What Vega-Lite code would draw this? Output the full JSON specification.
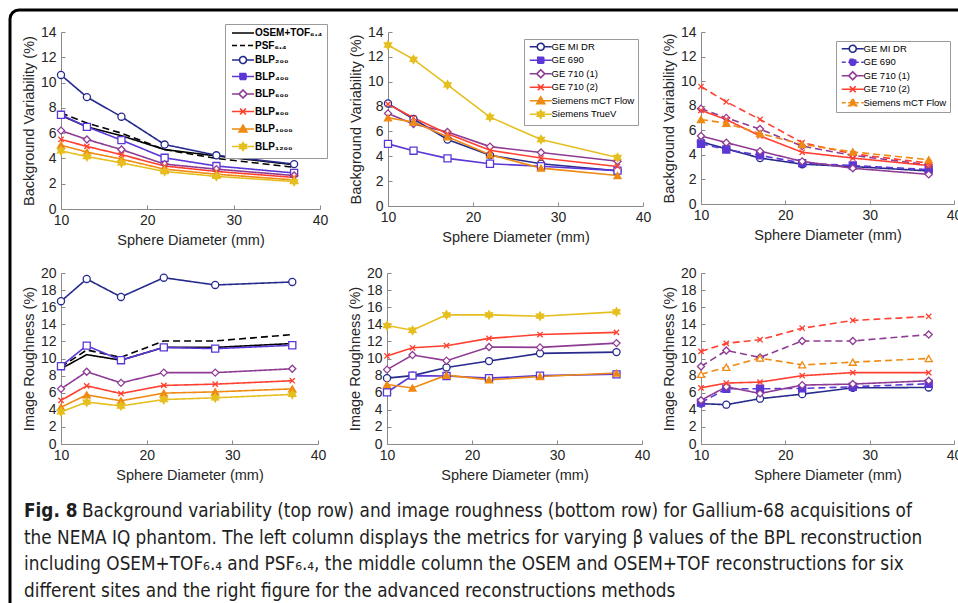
{
"$schema": "https://vega.github.io/schema/vega-lite/v6.json",
"background": "white",
"padding": {"left": 8, "top": 8, "right": 0, "bottom": 0},
"config": {
  "view": {"stroke": null},
  "font": "Liberation Sans",
  "axis": {"labelFont": "Liberation Sans", "labelFontSize": 14, "labelColor": "#262626", "titleFont": "Liberation Sans", "titleFontSize": 14.5, "titleFontWeight": "normal", "titleColor": "#262626", "domainColor": "#8a8a8a", "tickColor": "#8a8a8a", "tickSize": -4, "grid": false, "labelOverlap": false},
  "axisX": {"labelPadding": 8, "titlePadding": 6, "labelFlush": false},
  "axisY": {"labelPadding": 9, "titlePadding": 4},
  "legend": {"labelFont": "Liberation Sans", "labelColor": "#000000"}
},
"datasets": {
  "bvBPL": [
    {"series":"OSEM+TOF₆.₄","recon":"OSEM+TOF","diam":10,"val":7.4},{"series":"OSEM+TOF₆.₄","recon":"OSEM+TOF","diam":13,"val":6.5},{"series":"OSEM+TOF₆.₄","recon":"OSEM+TOF","diam":17,"val":5.8},{"series":"OSEM+TOF₆.₄","recon":"OSEM+TOF","diam":22,"val":4.7},{"series":"OSEM+TOF₆.₄","recon":"OSEM+TOF","diam":28,"val":4.2},{"series":"OSEM+TOF₆.₄","recon":"OSEM+TOF","diam":37,"val":3.5},
    {"series":"PSF₆.₄","recon":"PSF","diam":10,"val":7.6},{"series":"PSF₆.₄","recon":"PSF","diam":13,"val":6.8},{"series":"PSF₆.₄","recon":"PSF","diam":17,"val":6.0},{"series":"PSF₆.₄","recon":"PSF","diam":22,"val":4.7},{"series":"PSF₆.₄","recon":"PSF","diam":28,"val":4.0},{"series":"PSF₆.₄","recon":"PSF","diam":37,"val":3.3},
    {"series":"BLP₂₀₀","recon":"BPL","diam":10,"val":10.6},{"series":"BLP₂₀₀","recon":"BPL","diam":13,"val":8.85},{"series":"BLP₂₀₀","recon":"BPL","diam":17,"val":7.3},{"series":"BLP₂₀₀","recon":"BPL","diam":22,"val":5.1},{"series":"BLP₂₀₀","recon":"BPL","diam":28,"val":4.25},{"series":"BLP₂₀₀","recon":"BPL","diam":37,"val":3.55},
    {"series":"BLP₄₀₀","recon":"BPL","diam":10,"val":7.45},{"series":"BLP₄₀₀","recon":"BPL","diam":13,"val":6.5},{"series":"BLP₄₀₀","recon":"BPL","diam":17,"val":5.45},{"series":"BLP₄₀₀","recon":"BPL","diam":22,"val":4.05},{"series":"BLP₄₀₀","recon":"BPL","diam":28,"val":3.4},{"series":"BLP₄₀₀","recon":"BPL","diam":37,"val":2.85},
    {"series":"BLP₆₀₀","recon":"BPL","diam":10,"val":6.2},{"series":"BLP₆₀₀","recon":"BPL","diam":13,"val":5.5},{"series":"BLP₆₀₀","recon":"BPL","diam":17,"val":4.7},{"series":"BLP₆₀₀","recon":"BPL","diam":22,"val":3.55},{"series":"BLP₆₀₀","recon":"BPL","diam":28,"val":3.15},{"series":"BLP₆₀₀","recon":"BPL","diam":37,"val":2.65},
    {"series":"BLP₈₀₀","recon":"BPL","diam":10,"val":5.5},{"series":"BLP₈₀₀","recon":"BPL","diam":13,"val":4.95},{"series":"BLP₈₀₀","recon":"BPL","diam":17,"val":4.3},{"series":"BLP₈₀₀","recon":"BPL","diam":22,"val":3.4},{"series":"BLP₈₀₀","recon":"BPL","diam":28,"val":2.97},{"series":"BLP₈₀₀","recon":"BPL","diam":37,"val":2.5},
    {"series":"BLP₁₀₀₀","recon":"BPL","diam":10,"val":5.05},{"series":"BLP₁₀₀₀","recon":"BPL","diam":13,"val":4.5},{"series":"BLP₁₀₀₀","recon":"BPL","diam":17,"val":3.95},{"series":"BLP₁₀₀₀","recon":"BPL","diam":22,"val":3.15},{"series":"BLP₁₀₀₀","recon":"BPL","diam":28,"val":2.75},{"series":"BLP₁₀₀₀","recon":"BPL","diam":37,"val":2.3},
    {"series":"BLP₁₂₀₀","recon":"BPL","diam":10,"val":4.6},{"series":"BLP₁₂₀₀","recon":"BPL","diam":13,"val":4.15},{"series":"BLP₁₂₀₀","recon":"BPL","diam":17,"val":3.65},{"series":"BLP₁₂₀₀","recon":"BPL","diam":22,"val":2.97},{"series":"BLP₁₂₀₀","recon":"BPL","diam":28,"val":2.58},{"series":"BLP₁₂₀₀","recon":"BPL","diam":37,"val":2.17}
  ],
  "irBPL": [
    {"series":"OSEM+TOF₆.₄","recon":"OSEM+TOF","diam":10,"val":8.8},{"series":"OSEM+TOF₆.₄","recon":"OSEM+TOF","diam":13,"val":10.45},{"series":"OSEM+TOF₆.₄","recon":"OSEM+TOF","diam":17,"val":9.8},{"series":"OSEM+TOF₆.₄","recon":"OSEM+TOF","diam":22,"val":11.3},{"series":"OSEM+TOF₆.₄","recon":"OSEM+TOF","diam":28,"val":11.3},{"series":"OSEM+TOF₆.₄","recon":"OSEM+TOF","diam":37,"val":11.75},
    {"series":"PSF₆.₄","recon":"PSF","diam":10,"val":9.0},{"series":"PSF₆.₄","recon":"PSF","diam":13,"val":11.0},{"series":"PSF₆.₄","recon":"PSF","diam":17,"val":10.15},{"series":"PSF₆.₄","recon":"PSF","diam":22,"val":12.05},{"series":"PSF₆.₄","recon":"PSF","diam":28,"val":12.05},{"series":"PSF₆.₄","recon":"PSF","diam":37,"val":12.8},
    {"series":"BLP₂₀₀","recon":"BPL","diam":10,"val":16.7},{"series":"BLP₂₀₀","recon":"BPL","diam":13,"val":19.3},{"series":"BLP₂₀₀","recon":"BPL","diam":17,"val":17.2},{"series":"BLP₂₀₀","recon":"BPL","diam":22,"val":19.45},{"series":"BLP₂₀₀","recon":"BPL","diam":28,"val":18.6},{"series":"BLP₂₀₀","recon":"BPL","diam":37,"val":18.95},
    {"series":"BLP₄₀₀","recon":"BPL","diam":10,"val":9.1},{"series":"BLP₄₀₀","recon":"BPL","diam":13,"val":11.5},{"series":"BLP₄₀₀","recon":"BPL","diam":17,"val":9.8},{"series":"BLP₄₀₀","recon":"BPL","diam":22,"val":11.3},{"series":"BLP₄₀₀","recon":"BPL","diam":28,"val":11.15},{"series":"BLP₄₀₀","recon":"BPL","diam":37,"val":11.55},
    {"series":"BLP₆₀₀","recon":"BPL","diam":10,"val":6.45},{"series":"BLP₆₀₀","recon":"BPL","diam":13,"val":8.45},{"series":"BLP₆₀₀","recon":"BPL","diam":17,"val":7.15},{"series":"BLP₆₀₀","recon":"BPL","diam":22,"val":8.35},{"series":"BLP₆₀₀","recon":"BPL","diam":28,"val":8.35},{"series":"BLP₆₀₀","recon":"BPL","diam":37,"val":8.8},
    {"series":"BLP₈₀₀","recon":"BPL","diam":10,"val":5.1},{"series":"BLP₈₀₀","recon":"BPL","diam":13,"val":6.8},{"series":"BLP₈₀₀","recon":"BPL","diam":17,"val":5.9},{"series":"BLP₈₀₀","recon":"BPL","diam":22,"val":6.85},{"series":"BLP₈₀₀","recon":"BPL","diam":28,"val":7.0},{"series":"BLP₈₀₀","recon":"BPL","diam":37,"val":7.4},
    {"series":"BLP₁₀₀₀","recon":"BPL","diam":10,"val":4.3},{"series":"BLP₁₀₀₀","recon":"BPL","diam":13,"val":5.75},{"series":"BLP₁₀₀₀","recon":"BPL","diam":17,"val":5.05},{"series":"BLP₁₀₀₀","recon":"BPL","diam":22,"val":5.95},{"series":"BLP₁₀₀₀","recon":"BPL","diam":28,"val":6.1},{"series":"BLP₁₀₀₀","recon":"BPL","diam":37,"val":6.45},
    {"series":"BLP₁₂₀₀","recon":"BPL","diam":10,"val":3.75},{"series":"BLP₁₂₀₀","recon":"BPL","diam":13,"val":4.9},{"series":"BLP₁₂₀₀","recon":"BPL","diam":17,"val":4.45},{"series":"BLP₁₂₀₀","recon":"BPL","diam":22,"val":5.2},{"series":"BLP₁₂₀₀","recon":"BPL","diam":28,"val":5.4},{"series":"BLP₁₂₀₀","recon":"BPL","diam":37,"val":5.8}
  ],
  "bvSite": [
    {"series":"GE MI DR","diam":10,"val":8.25},{"series":"GE MI DR","diam":13,"val":7.0},{"series":"GE MI DR","diam":17,"val":5.35},{"series":"GE MI DR","diam":22,"val":4.08},{"series":"GE MI DR","diam":28,"val":3.4},{"series":"GE MI DR","diam":37,"val":2.83},
    {"series":"GE 690","diam":10,"val":5.0},{"series":"GE 690","diam":13,"val":4.45},{"series":"GE 690","diam":17,"val":3.83},{"series":"GE 690","diam":22,"val":3.4},{"series":"GE 690","diam":28,"val":3.2},{"series":"GE 690","diam":37,"val":2.85},
    {"series":"GE 710 (1)","diam":10,"val":7.45},{"series":"GE 710 (1)","diam":13,"val":6.6},{"series":"GE 710 (1)","diam":17,"val":5.95},{"series":"GE 710 (1)","diam":22,"val":4.78},{"series":"GE 710 (1)","diam":28,"val":4.3},{"series":"GE 710 (1)","diam":37,"val":3.6},
    {"series":"GE 710 (2)","diam":10,"val":8.2},{"series":"GE 710 (2)","diam":13,"val":7.1},{"series":"GE 710 (2)","diam":17,"val":5.82},{"series":"GE 710 (2)","diam":22,"val":4.48},{"series":"GE 710 (2)","diam":28,"val":3.86},{"series":"GE 710 (2)","diam":37,"val":3.18},
    {"series":"Siemens mCT Flow","diam":10,"val":7.1},{"series":"Siemens mCT Flow","diam":13,"val":6.75},{"series":"Siemens mCT Flow","diam":17,"val":5.57},{"series":"Siemens mCT Flow","diam":22,"val":4.13},{"series":"Siemens mCT Flow","diam":28,"val":3.05},{"series":"Siemens mCT Flow","diam":37,"val":2.45},
    {"series":"Siemens TrueV","diam":10,"val":12.95},{"series":"Siemens TrueV","diam":13,"val":11.8},{"series":"Siemens TrueV","diam":17,"val":9.75},{"series":"Siemens TrueV","diam":22,"val":7.15},{"series":"Siemens TrueV","diam":28,"val":5.35},{"series":"Siemens TrueV","diam":37,"val":3.9}
  ],
  "irSite": [
    {"series":"GE MI DR","diam":10,"val":7.7},{"series":"GE MI DR","diam":13,"val":8.0},{"series":"GE MI DR","diam":17,"val":8.95},{"series":"GE MI DR","diam":22,"val":9.7},{"series":"GE MI DR","diam":28,"val":10.6},{"series":"GE MI DR","diam":37,"val":10.75},
    {"series":"GE 690","diam":10,"val":6.05},{"series":"GE 690","diam":13,"val":8.0},{"series":"GE 690","diam":17,"val":7.95},{"series":"GE 690","diam":22,"val":7.7},{"series":"GE 690","diam":28,"val":8.0},{"series":"GE 690","diam":37,"val":8.15},
    {"series":"GE 710 (1)","diam":10,"val":8.7},{"series":"GE 710 (1)","diam":13,"val":10.4},{"series":"GE 710 (1)","diam":17,"val":9.75},{"series":"GE 710 (1)","diam":22,"val":11.35},{"series":"GE 710 (1)","diam":28,"val":11.3},{"series":"GE 710 (1)","diam":37,"val":11.8},
    {"series":"GE 710 (2)","diam":10,"val":10.3},{"series":"GE 710 (2)","diam":13,"val":11.25},{"series":"GE 710 (2)","diam":17,"val":11.5},{"series":"GE 710 (2)","diam":22,"val":12.35},{"series":"GE 710 (2)","diam":28,"val":12.8},{"series":"GE 710 (2)","diam":37,"val":13.05},
    {"series":"Siemens mCT Flow","diam":10,"val":6.95},{"series":"Siemens mCT Flow","diam":13,"val":6.55},{"series":"Siemens mCT Flow","diam":17,"val":8.05},{"series":"Siemens mCT Flow","diam":22,"val":7.5},{"series":"Siemens mCT Flow","diam":28,"val":7.9},{"series":"Siemens mCT Flow","diam":37,"val":8.3},
    {"series":"Siemens TrueV","diam":10,"val":13.85},{"series":"Siemens TrueV","diam":13,"val":13.3},{"series":"Siemens TrueV","diam":17,"val":15.1},{"series":"Siemens TrueV","diam":22,"val":15.1},{"series":"Siemens TrueV","diam":28,"val":14.95},{"series":"Siemens TrueV","diam":37,"val":15.45}
  ],
  "bvAdv": [
    {"series":"GE MI DR","recon":"std","diam":10,"val":5.07},{"series":"GE MI DR","recon":"std","diam":13,"val":4.49},{"series":"GE MI DR","recon":"std","diam":17,"val":3.74},{"series":"GE MI DR","recon":"std","diam":22,"val":3.24},{"series":"GE MI DR","recon":"std","diam":28,"val":3.05},{"series":"GE MI DR","recon":"std","diam":37,"val":2.69},
    {"series":"GE 690","recon":"adv","diam":10,"val":4.9},{"series":"GE 690","recon":"adv","diam":13,"val":4.44},{"series":"GE 690","recon":"adv","diam":17,"val":3.96},{"series":"GE 690","recon":"adv","diam":22,"val":3.33},{"series":"GE 690","recon":"adv","diam":28,"val":3.13},{"series":"GE 690","recon":"adv","diam":37,"val":2.8},
    {"series":"GE 710 (1)","recon":"std","diam":10,"val":5.54},{"series":"GE 710 (1)","recon":"std","diam":13,"val":4.99},{"series":"GE 710 (1)","recon":"std","diam":17,"val":4.3},{"series":"GE 710 (1)","recon":"std","diam":22,"val":3.47},{"series":"GE 710 (1)","recon":"std","diam":28,"val":2.91},{"series":"GE 710 (1)","recon":"std","diam":37,"val":2.41},
    {"series":"GE 710 (1)","recon":"adv","diam":10,"val":7.76},{"series":"GE 710 (1)","recon":"adv","diam":13,"val":7.01},{"series":"GE 710 (1)","recon":"adv","diam":17,"val":6.1},{"series":"GE 710 (1)","recon":"adv","diam":22,"val":4.71},{"series":"GE 710 (1)","recon":"adv","diam":28,"val":3.96},{"series":"GE 710 (1)","recon":"adv","diam":37,"val":3.19},
    {"series":"GE 710 (2)","recon":"std","diam":10,"val":7.62},{"series":"GE 710 (2)","recon":"std","diam":13,"val":6.88},{"series":"GE 710 (2)","recon":"std","diam":17,"val":5.54},{"series":"GE 710 (2)","recon":"std","diam":22,"val":4.21},{"series":"GE 710 (2)","recon":"std","diam":28,"val":3.74},{"series":"GE 710 (2)","recon":"std","diam":37,"val":3.13},
    {"series":"GE 710 (2)","recon":"adv","diam":10,"val":9.56},{"series":"GE 710 (2)","recon":"adv","diam":13,"val":8.32},{"series":"GE 710 (2)","recon":"adv","diam":17,"val":6.88},{"series":"GE 710 (2)","recon":"adv","diam":22,"val":4.99},{"series":"GE 710 (2)","recon":"adv","diam":28,"val":4.08},{"series":"GE 710 (2)","recon":"adv","diam":37,"val":3.33},
    {"series":"Siemens mCT Flow","recon":"adv","diam":10,"val":6.88},{"series":"Siemens mCT Flow","recon":"adv","diam":13,"val":6.57},{"series":"Siemens mCT Flow","recon":"adv","diam":17,"val":5.74},{"series":"Siemens mCT Flow","recon":"adv","diam":22,"val":4.85},{"series":"Siemens mCT Flow","recon":"adv","diam":28,"val":4.24},{"series":"Siemens mCT Flow","recon":"adv","diam":37,"val":3.6}
  ],
  "irAdv": [
    {"series":"GE MI DR","recon":"std","diam":10,"val":4.72},{"series":"GE MI DR","recon":"std","diam":13,"val":4.6},{"series":"GE MI DR","recon":"std","diam":17,"val":5.3},{"series":"GE MI DR","recon":"std","diam":22,"val":5.83},{"series":"GE MI DR","recon":"std","diam":28,"val":6.57},{"series":"GE MI DR","recon":"std","diam":37,"val":6.61},
    {"series":"GE 690","recon":"adv","diam":10,"val":4.84},{"series":"GE 690","recon":"adv","diam":13,"val":6.46},{"series":"GE 690","recon":"adv","diam":17,"val":6.46},{"series":"GE 690","recon":"adv","diam":22,"val":6.5},{"series":"GE 690","recon":"adv","diam":28,"val":6.69},{"series":"GE 690","recon":"adv","diam":37,"val":7.05},
    {"series":"GE 710 (1)","recon":"std","diam":10,"val":5.12},{"series":"GE 710 (1)","recon":"std","diam":13,"val":6.69},{"series":"GE 710 (1)","recon":"std","diam":17,"val":5.91},{"series":"GE 710 (1)","recon":"std","diam":22,"val":6.89},{"series":"GE 710 (1)","recon":"std","diam":28,"val":7.01},{"series":"GE 710 (1)","recon":"std","diam":37,"val":7.4},
    {"series":"GE 710 (1)","recon":"adv","diam":10,"val":9.06},{"series":"GE 710 (1)","recon":"adv","diam":13,"val":10.94},{"series":"GE 710 (1)","recon":"adv","diam":17,"val":10.12},{"series":"GE 710 (1)","recon":"adv","diam":22,"val":12.05},{"series":"GE 710 (1)","recon":"adv","diam":28,"val":12.05},{"series":"GE 710 (1)","recon":"adv","diam":37,"val":12.8},
    {"series":"GE 710 (2)","recon":"std","diam":10,"val":6.57},{"series":"GE 710 (2)","recon":"std","diam":13,"val":7.13},{"series":"GE 710 (2)","recon":"std","diam":17,"val":7.24},{"series":"GE 710 (2)","recon":"std","diam":22,"val":7.99},{"series":"GE 710 (2)","recon":"std","diam":28,"val":8.35},{"series":"GE 710 (2)","recon":"std","diam":37,"val":8.35},
    {"series":"GE 710 (2)","recon":"adv","diam":10,"val":10.83},{"series":"GE 710 (2)","recon":"adv","diam":13,"val":11.77},{"series":"GE 710 (2)","recon":"adv","diam":17,"val":12.2},{"series":"GE 710 (2)","recon":"adv","diam":22,"val":13.54},{"series":"GE 710 (2)","recon":"adv","diam":28,"val":14.45},{"series":"GE 710 (2)","recon":"adv","diam":37,"val":14.92},
    {"series":"Siemens mCT Flow","recon":"adv","diam":10,"val":8.15},{"series":"Siemens mCT Flow","recon":"adv","diam":13,"val":8.98},{"series":"Siemens mCT Flow","recon":"adv","diam":17,"val":10.04},{"series":"Siemens mCT Flow","recon":"adv","diam":22,"val":9.25},{"series":"Siemens mCT Flow","recon":"adv","diam":28,"val":9.57},{"series":"Siemens mCT Flow","recon":"adv","diam":37,"val":10.0}
  ]
},
"bounds": "flush",
"spacing": 51,
"resolve": {"scale": {"stroke": "independent", "fill": "independent", "shape": "independent", "strokeDash": "independent"}, "legend": {"stroke": "independent", "fill": "independent", "shape": "independent", "strokeDash": "independent"}},
"hconcat": [
  {"bounds": "flush", "vconcat": [
    {"width": 1000, "height": 620, "data": {"values": []}, "mark": "point", "encoding": {}, "view": {"stroke": "#000000", "strokeWidth": 3, "cornerRadius": 9}}
  ]},
  {
    "bounds": "flush", "spacing": 21,
    "resolve": {"scale": {"stroke": "independent", "fill": "independent", "shape": "independent", "strokeDash": "independent"}, "legend": {"stroke": "independent", "fill": "independent", "shape": "independent", "strokeDash": "independent"}},
    "vconcat": [
      {"width": 1, "height": 1, "data": {"values": []}, "mark": "point", "encoding": {}},
      {
        "bounds": "flush", "spacing": 241,
        "resolve": {"scale": {"stroke": "independent", "fill": "independent", "shape": "independent", "strokeDash": "independent"}, "legend": {"stroke": "independent", "fill": "independent", "shape": "independent", "strokeDash": "independent"}},
        "vconcat": [
              {
                "bounds": "flush", "spacing": 68,
                "resolve": {"scale": {"stroke": "independent", "fill": "independent", "shape": "independent", "strokeDash": "independent"}, "legend": {"stroke": "independent", "fill": "independent", "shape": "independent", "strokeDash": "independent"}},
                "hconcat": [
                  {
                    "width": 259, "height": 177,
                    "data": {"name": "bvBPL"},
                    "encoding": {
                      "x": {"field": "diam", "type": "quantitative", "scale": {"domain": [10, 40], "nice": false}, "axis": {"title": "Sphere Diameter (mm)", "values": [10, 20, 30, 40]}},
                      "y": {"field": "val", "type": "quantitative", "scale": {"domain": [0, 14], "nice": false}, "axis": {"title": "Background Variability (%)", "values": [0, 2, 4, 6, 8, 10, 12, 14]}},
                      "stroke": {"field": "series", "type": "nominal",
                        "scale": {"domain": ["OSEM+TOF₆.₄", "PSF₆.₄", "BLP₂₀₀", "BLP₄₀₀", "BLP₆₀₀", "BLP₈₀₀", "BLP₁₀₀₀", "BLP₁₂₀₀"], "range": ["#000000", "#000000", "#262a8c", "#5b37d6", "#8e3b94", "#ff4030", "#ef8a12", "#e5bf1f"]},
                        "legend": {"orient": "none", "legendX": 164, "legendY": -8, "title": null, "padding": 4, "rowPadding": 2.5, "symbolSize": 4, "symbolStrokeWidth": 1.6, "labelOffset": 16, "labelFontSize": 10, "labelFontWeight": "bold", "fillColor": "white", "strokeColor": "#9a9a9a",
                          "encode": {"symbols": {"update": {
                            "shape": {"signal": "['M-2,0H20','M-2,0H20','M-2,0H5.5M12.5,0H20M12.5,0A3.5,3.5 0 1,1 5.5,0A3.5,3.5 0 1,1 12.5,0Z','M-2,0H20M6,-3H12V3H6Z','M-2,0H5M13,0H20M9,-4L13,0L9,4L5,0Z','M-2,0H20M6,-3L12,3M6,3L12,-3','M-2,0H20M9,-4L13,3H5Z','M-2,0H20M9,-4L10.155,-2L12.46,-2L11.31,0L12.46,2L10.155,2L9,4L7.845,2L5.54,2L6.69,0L5.54,-2L7.845,-2Z'][datum.index]"},
                            "fill": {"signal": "['transparent','transparent','white','#5b37d6','white','transparent','#ef8a12','#e5bf1f'][datum.index]"},
                            "strokeDash": {"signal": "[[1,0],[5,3],[1,0],[1,0],[1,0],[1,0],[1,0],[1,0]][datum.index]"}
                          }}}
                        }
                      }
                    },
                    "layer": [
                      {"mark": {"type": "line", "strokeWidth": 1.6}, "encoding": {"strokeDash": {"field": "recon", "type": "nominal", "scale": {"domain": ["OSEM+TOF", "PSF", "BPL"], "range": [[1, 0], [7, 4], [1, 0]]}, "legend": null}}},
                      {"transform": [{"filter": "datum.recon == 'BPL'"}], "mark": {"type": "point", "filled": true, "size": 50, "strokeWidth": 1.3, "opacity": 1},
                       "encoding": {
                         "shape": {"field": "series", "type": "nominal", "scale": {"domain": ["BLP₂₀₀", "BLP₄₀₀", "BLP₆₀₀", "BLP₈₀₀", "BLP₁₀₀₀", "BLP₁₂₀₀"], "range": ["circle", "square", "diamond", "M-0.75,-0.75L0.75,0.75M-0.75,0.75L0.75,-0.75", "triangle-up", "M0,-1.15L0.33,-0.575L1,-0.575L0.66,0L1,0.575L0.33,0.575L0,1.15L-0.33,0.575L-1,0.575L-0.66,0L-1,-0.575L-0.33,-0.575Z"]}, "legend": null},
                         "fill": {"field": "series", "type": "nominal", "scale": {"domain": ["BLP₂₀₀", "BLP₄₀₀", "BLP₆₀₀", "BLP₈₀₀", "BLP₁₀₀₀", "BLP₁₂₀₀"], "range": ["white", "white", "white", "#ff4030", "#ef8a12", "#e5bf1f"]}, "legend": null}
                       }}
                    ]
                  },
                  {
                    "bounds": "flush", "spacing": 58,
                    "resolve": {"scale": {"stroke": "independent", "fill": "independent", "shape": "independent", "strokeDash": "independent"}, "legend": {"stroke": "independent", "fill": "independent", "shape": "independent", "strokeDash": "independent"}},
                    "hconcat": [
                      {
                        "width": 255, "height": 174,
                        "data": {"name": "bvSite"},
                        "encoding": {
                          "x": {"field": "diam", "type": "quantitative", "scale": {"domain": [10, 40], "nice": false}, "axis": {"title": "Sphere Diameter (mm)", "values": [10, 20, 30, 40]}},
                          "y": {"field": "val", "type": "quantitative", "scale": {"domain": [0, 14], "nice": false}, "axis": {"title": "Background Variability (%)", "values": [0, 2, 4, 6, 8, 10, 12, 14]}},
                          "stroke": {"field": "series", "type": "nominal",
                            "scale": {"domain": ["GE MI DR", "GE 690", "GE 710 (1)", "GE 710 (2)", "Siemens mCT Flow", "Siemens TrueV"], "range": ["#262a8c", "#5b37d6", "#8e3b94", "#ff4030", "#ef8a12", "#e5bf1f"]},
                            "legend": {"orient": "none", "legendX": 136, "legendY": 7, "title": null, "padding": 3, "rowPadding": -0.5, "symbolSize": 4, "symbolStrokeWidth": 1.6, "labelOffset": 15, "labelFontSize": 9.5, "fillColor": "white", "strokeColor": "#9a9a9a",
                              "encode": {"symbols": {"update": {
                                "shape": {"signal": "['M-2,0H5.5M12.5,0H20M12.5,0A3.5,3.5 0 1,1 5.5,0A3.5,3.5 0 1,1 12.5,0Z','M-2,0H20M6,-3H12V3H6Z','M-2,0H5M13,0H20M9,-4L13,0L9,4L5,0Z','M-2,0H20M6,-3L12,3M6,3L12,-3','M-2,0H20M9,-4L13,3H5Z','M-2,0H20M9,-4L10.155,-2L12.46,-2L11.31,0L12.46,2L10.155,2L9,4L7.845,2L5.54,2L6.69,0L5.54,-2L7.845,-2Z'][datum.index]"},
                                "fill": {"signal": "['white','#5b37d6','white','transparent','#ef8a12','#e5bf1f'][datum.index]"},
                                "strokeDash": {"signal": "[1,0]"}
                              }}}
                            }
                          }
                        },
                        "layer": [
                          {"mark": {"type": "line", "strokeWidth": 1.6}},
                          {"mark": {"type": "point", "filled": true, "size": 50, "strokeWidth": 1.3, "opacity": 1},
                           "encoding": {
                             "shape": {"field": "series", "type": "nominal", "scale": {"domain": ["Siemens TrueV", "Siemens mCT Flow", "GE 710 (2)", "GE 710 (1)", "GE 690", "GE MI DR"], "range": ["M0,-1.15L0.33,-0.575L1,-0.575L0.66,0L1,0.575L0.33,0.575L0,1.15L-0.33,0.575L-1,0.575L-0.66,0L-1,-0.575L-0.33,-0.575Z", "triangle-up", "M-0.75,-0.75L0.75,0.75M-0.75,0.75L0.75,-0.75", "diamond", "square", "circle"]}, "legend": null},
                             "fill": {"field": "series", "type": "nominal", "scale": {"domain": ["Siemens TrueV", "Siemens mCT Flow", "GE 710 (2)", "GE 710 (1)", "GE 690", "GE MI DR"], "range": ["#e5bf1f", "#ef8a12", "#ff4030", "white", "white", "white"]}, "legend": null}
                           }}
                        ]
                      },
                      {
                        "width": 253, "height": 172,
                        "data": {"name": "bvAdv"},
                        "encoding": {
                          "x": {"field": "diam", "type": "quantitative", "scale": {"domain": [10, 40], "nice": false}, "axis": {"title": "Sphere Diameter (mm)", "values": [10, 20, 30, 40]}},
                          "y": {"field": "val", "type": "quantitative", "scale": {"domain": [0, 14], "nice": false}, "axis": {"title": "Background Variability (%)", "values": [0, 2, 4, 6, 8, 10, 12, 14]}},
                          "stroke": {"field": "series", "type": "nominal",
                            "scale": {"domain": ["GE MI DR", "GE 690", "GE 710 (1)", "GE 710 (2)", "Siemens mCT Flow"], "range": ["#262a8c", "#5b37d6", "#8e3b94", "#ff4030", "#ef8a12"]},
                            "legend": {"orient": "none", "legendX": 135, "legendY": 9, "title": null, "padding": 3, "rowPadding": -0.5, "symbolSize": 4, "symbolStrokeWidth": 1.6, "labelOffset": 15, "labelFontSize": 9.5, "fillColor": "white", "strokeColor": "#9a9a9a",
                              "encode": {"symbols": {"update": {
                                "shape": {"signal": "['M-2,0H5.5M12.5,0H20M12.5,0A3.5,3.5 0 1,1 5.5,0A3.5,3.5 0 1,1 12.5,0Z','M-2,0H20M6,-3H12V3H6Z','M-2,0H5M13,0H20M9,-4L13,0L9,4L5,0Z','M-2,0H20M6,-3L12,3M6,3L12,-3','M-2,0H20M9,-4L13,3H5Z'][datum.index]"},
                                "fill": {"signal": "['white','#5b37d6','white','transparent','#ef8a12'][datum.index]"},
                                "strokeDash": {"signal": "[[1,0],[4,2.5],[1,0],[1,0],[4,2.5]][datum.index]"}
                              }}}
                            }
                          }
                        },
                        "layer": [
                          {"mark": {"type": "line", "strokeWidth": 1.6}, "encoding": {"strokeDash": {"field": "recon", "type": "nominal", "scale": {"domain": ["std", "adv"], "range": [[1, 0], [7, 4]]}, "legend": null}}},
                          {"mark": {"type": "point", "filled": true, "size": 50, "strokeWidth": 1.3, "opacity": 1},
                           "encoding": {
                             "shape": {"field": "series", "type": "nominal", "scale": {"domain": ["Siemens mCT Flow", "GE 710 (2)", "GE 710 (1)", "GE 690", "GE MI DR"], "range": ["triangle-up", "M-0.75,-0.75L0.75,0.75M-0.75,0.75L0.75,-0.75", "diamond", "square", "circle"]}, "legend": null},
                             "fill": {"field": "series", "type": "nominal", "scale": {"domain": ["Siemens mCT Flow", "GE 710 (2)", "GE 710 (1)", "GE 690", "GE MI DR"], "range": ["#ef8a12", "#ff4030", "white", "#5b37d6", "white"]}, "legend": null}
                           }}
                        ]
                      }
                    ]
                  }
                ]
              },
              {
                "bounds": "flush", "spacing": 238,
                "resolve": {"scale": {"stroke": "independent", "fill": "independent", "shape": "independent", "strokeDash": "independent"}, "legend": {"stroke": "independent", "fill": "independent", "shape": "independent", "strokeDash": "independent"}},
                "vconcat": [
              {
                "bounds": "flush", "spacing": 69,
                "resolve": {"scale": {"stroke": "independent", "fill": "independent", "shape": "independent", "strokeDash": "independent"}, "legend": {"stroke": "independent", "fill": "independent", "shape": "independent", "strokeDash": "independent"}},
                "hconcat": [
                  {
                    "width": 257, "height": 171,
                    "data": {"name": "irBPL"},
                    "encoding": {
                      "x": {"field": "diam", "type": "quantitative", "scale": {"domain": [10, 40], "nice": false}, "axis": {"title": "Sphere Diameter (mm)", "values": [10, 20, 30, 40]}},
                      "y": {"field": "val", "type": "quantitative", "scale": {"domain": [0, 20], "nice": false}, "axis": {"title": "Image Roughness (%)", "values": [0, 2, 4, 6, 8, 10, 12, 14, 16, 18, 20]}},
                      "stroke": {"field": "series", "type": "nominal",
                        "scale": {"domain": ["OSEM+TOF₆.₄", "PSF₆.₄", "BLP₂₀₀", "BLP₄₀₀", "BLP₆₀₀", "BLP₈₀₀", "BLP₁₀₀₀", "BLP₁₂₀₀"], "range": ["#000000", "#000000", "#262a8c", "#5b37d6", "#8e3b94", "#ff4030", "#ef8a12", "#e5bf1f"]},
                        "legend": null}
                    },
                    "layer": [
                      {"mark": {"type": "line", "strokeWidth": 1.6}, "encoding": {"strokeDash": {"field": "recon", "type": "nominal", "scale": {"domain": ["OSEM+TOF", "PSF", "BPL"], "range": [[1, 0], [7, 4], [1, 0]]}, "legend": null}}},
                      {"transform": [{"filter": "datum.recon == 'BPL'"}], "mark": {"type": "point", "filled": true, "size": 50, "strokeWidth": 1.3, "opacity": 1},
                       "encoding": {
                         "shape": {"field": "series", "type": "nominal", "scale": {"domain": ["BLP₂₀₀", "BLP₄₀₀", "BLP₆₀₀", "BLP₈₀₀", "BLP₁₀₀₀", "BLP₁₂₀₀"], "range": ["circle", "square", "diamond", "M-0.75,-0.75L0.75,0.75M-0.75,0.75L0.75,-0.75", "triangle-up", "M0,-1.15L0.33,-0.575L1,-0.575L0.66,0L1,0.575L0.33,0.575L0,1.15L-0.33,0.575L-1,0.575L-0.66,0L-1,-0.575L-0.33,-0.575Z"]}, "legend": null},
                         "fill": {"field": "series", "type": "nominal", "scale": {"domain": ["BLP₂₀₀", "BLP₄₀₀", "BLP₆₀₀", "BLP₈₀₀", "BLP₁₀₀₀", "BLP₁₂₀₀"], "range": ["white", "white", "white", "#ff4030", "#ef8a12", "#e5bf1f"]}, "legend": null}
                       }}
                    ]
                  },
                  {
                    "bounds": "flush", "spacing": 59,
                    "resolve": {"scale": {"stroke": "independent", "fill": "independent", "shape": "independent", "strokeDash": "independent"}, "legend": {"stroke": "independent", "fill": "independent", "shape": "independent", "strokeDash": "independent"}},
                    "hconcat": [
                      {
                        "width": 255, "height": 171,
                        "data": {"name": "irSite"},
                        "encoding": {
                          "x": {"field": "diam", "type": "quantitative", "scale": {"domain": [10, 40], "nice": false}, "axis": {"title": "Sphere Diameter (mm)", "values": [10, 20, 30, 40]}},
                          "y": {"field": "val", "type": "quantitative", "scale": {"domain": [0, 20], "nice": false}, "axis": {"title": "Image Roughness (%)", "values": [0, 2, 4, 6, 8, 10, 12, 14, 16, 18, 20]}},
                          "stroke": {"field": "series", "type": "nominal",
                            "scale": {"domain": ["GE MI DR", "GE 690", "GE 710 (1)", "GE 710 (2)", "Siemens mCT Flow", "Siemens TrueV"], "range": ["#262a8c", "#5b37d6", "#8e3b94", "#ff4030", "#ef8a12", "#e5bf1f"]},
                            "legend": null}
                        },
                        "layer": [
                          {"mark": {"type": "line", "strokeWidth": 1.6}},
                          {"mark": {"type": "point", "filled": true, "size": 50, "strokeWidth": 1.3, "opacity": 1},
                           "encoding": {
                             "shape": {"field": "series", "type": "nominal", "scale": {"domain": ["GE MI DR", "GE 690", "GE 710 (1)", "GE 710 (2)", "Siemens mCT Flow", "Siemens TrueV"], "range": ["circle", "square", "diamond", "M-0.75,-0.75L0.75,0.75M-0.75,0.75L0.75,-0.75", "triangle-up", "M0,-1.15L0.33,-0.575L1,-0.575L0.66,0L1,0.575L0.33,0.575L0,1.15L-0.33,0.575L-1,0.575L-0.66,0L-1,-0.575L-0.33,-0.575Z"]}, "legend": null},
                             "fill": {"field": "series", "type": "nominal", "scale": {"domain": ["GE MI DR", "GE 690", "GE 710 (1)", "GE 710 (2)", "Siemens mCT Flow", "Siemens TrueV"], "range": ["white", "white", "white", "#ff4030", "#ef8a12", "#e5bf1f"]}, "legend": null}
                           }}
                        ]
                      },
                      {
                        "width": 253, "height": 171,
                        "data": {"name": "irAdv"},
                        "encoding": {
                          "x": {"field": "diam", "type": "quantitative", "scale": {"domain": [10, 40], "nice": false}, "axis": {"title": "Sphere Diameter (mm)", "values": [10, 20, 30, 40]}},
                          "y": {"field": "val", "type": "quantitative", "scale": {"domain": [0, 20], "nice": false}, "axis": {"title": "Image Roughness (%)", "values": [0, 2, 4, 6, 8, 10, 12, 14, 16, 18, 20]}},
                          "stroke": {"field": "series", "type": "nominal",
                            "scale": {"domain": ["GE MI DR", "GE 690", "GE 710 (1)", "GE 710 (2)", "Siemens mCT Flow"], "range": ["#262a8c", "#5b37d6", "#8e3b94", "#ff4030", "#ef8a12"]},
                            "legend": null}
                        },
                        "layer": [
                          {"mark": {"type": "line", "strokeWidth": 1.6}, "encoding": {"strokeDash": {"field": "recon", "type": "nominal", "scale": {"domain": ["std", "adv"], "range": [[1, 0], [7, 4]]}, "legend": null}}},
                          {"mark": {"type": "point", "filled": true, "size": 50, "strokeWidth": 1.3, "opacity": 1},
                           "encoding": {
                             "shape": {"field": "series", "type": "nominal", "scale": {"domain": ["GE MI DR", "GE 690", "GE 710 (1)", "GE 710 (2)", "Siemens mCT Flow"], "range": ["circle", "square", "diamond", "M-0.75,-0.75L0.75,0.75M-0.75,0.75L0.75,-0.75", "triangle-up"]}, "legend": null},
                             "fill": {"field": "series", "type": "nominal", "scale": {"domain": ["GE MI DR", "GE 690", "GE 710 (1)", "GE 710 (2)", "Siemens mCT Flow"], "range": ["white", "#5b37d6", "white", "#ff4030", "white"]}, "legend": null}
                           }}
                        ]
                      }
                    ]
                  }
                ]
              },
          {
            "width": 900, "height": 80,
            "data": {"values": [
              {"line": 1, "part": "lead", "text": "Fig. 8"},
              {"line": 1, "part": "body", "text": "Background variability (top row) and image roughness (bottom row) for Gallium-68 acquisitions of"},
              {"line": 2, "part": "body", "text": "the NEMA IQ phantom. The left column displays the metrics for varying β values of the BPL reconstruction"},
              {"line": 3, "part": "body", "text": "including OSEM+TOF₆.₄ and PSF₆.₄, the middle column the OSEM and OSEM+TOF reconstructions for six"},
              {"line": 4, "part": "body", "text": "different sites and the right figure for the advanced reconstructions methods"}
            ]},
            "encoding": {
              "x": {"datum": 0, "type": "quantitative", "scale": {"domain": [0, 1]}, "axis": null},
              "y": {"field": "line", "type": "quantitative", "scale": {"domain": [1, 4], "nice": false, "zero": false, "reverse": true}, "axis": null},
              "text": {"field": "text"}
            },
            "layer": [
              {"transform": [{"filter": "datum.part == 'lead'"}], "mark": {"type": "text", "align": "left", "baseline": "middle", "font": "DejaVu Sans Condensed", "fontSize": 18.8, "fontWeight": "bold", "dx": -37, "color": "#1e1e1e"}},
              {"transform": [{"filter": "datum.part == 'body' && datum.line == 1"}], "mark": {"type": "text", "align": "left", "baseline": "middle", "font": "DejaVu Sans Condensed", "fontSize": 18.8, "dx": 21, "color": "#1e1e1e"}},
              {"transform": [{"filter": "datum.line > 1"}], "mark": {"type": "text", "align": "left", "baseline": "middle", "font": "DejaVu Sans Condensed", "fontSize": 18.8, "dx": -37, "color": "#1e1e1e"}}
            ]
          }
                ]
              }
        ]
      }
    ]
  }
]
}
